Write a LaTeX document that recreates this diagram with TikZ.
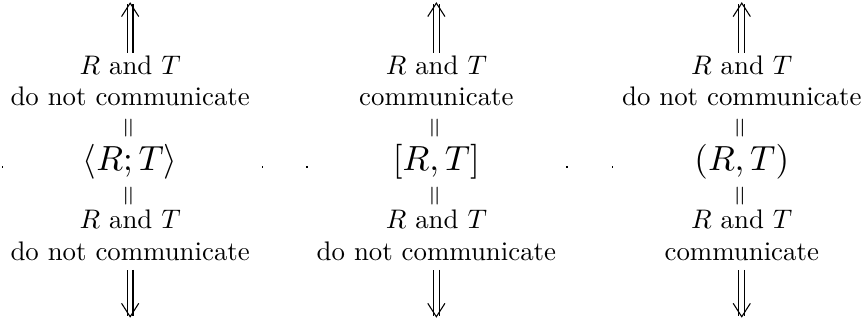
\documentclass[tikz,border=0pt]{standalone}
\usepackage{graphicx}
\usetikzlibrary{arrows.meta}
\newcommand{\bigterm}[1]{\scalebox{1.3}{$#1$}}
\tikzset{
  lbl/.style={anchor=base, inner sep=3.33pt},
  term/.style={anchor=base, inner sep=2pt},
  eqs/.style={rotate=90, inner sep=0pt},
  dbl/.style={double, double distance=1.7pt, line width=0.4pt, -{Straight Barb[line width=0.4pt, length=5pt, width=6.4pt]}},
  dblup/.style={dbl, shorten <=-2.5pt},
  dbldown/.style={dbl, shorten <=0pt},
  dotmark/.style={rectangle, fill=black, inner sep=0pt, minimum size=0.45pt}
}
\begin{document}
\begin{tikzpicture}[x=1pt,y=1pt]
\useasboundingbox (0,0) rectangle (322.7,120);
% dots
\node[dotmark] (d0) at (0.8,57.8) {};
\node[dotmark] (d1) at (97.7,57.8) {};
\node[dotmark] (d2) at (114.4,57.8) {};
\node[dotmark] (d3) at (211.3,57.8) {};
\node[dotmark] (d4) at (228.1,57.8) {};
% column 1
\coordinate (top1) at (48.5,119.2);
\coordinate (bot1) at (48.5,1.6);
\node[lbl] (a1) at (48.5,92.4) {$R$ and $T$};
\node[lbl] (b1) at (48.5,80.5) {do not communicate};
\node[eqs] (e1) at (48.5,72.3) {$=$};
\node[term] (m1) at (48.5,56.6) {\bigterm{\langle R;T\rangle}};
\node[eqs] (f1) at (48.5,47.0) {$=$};
\node[lbl] (c1) at (48.5,35.0) {$R$ and $T$};
\node[lbl] (g1) at (48.5,23.1) {do not communicate};
\draw[dblup] (a1.north) -- (top1);
\draw[dbldown] (g1.south) -- (bot1);
% column 2
\coordinate (top2) at (162.6,119.2);
\coordinate (bot2) at (162.6,1.6);
\node[lbl] (a2) at (162.6,92.4) {$R$ and $T$};
\node[lbl] (b2) at (162.6,80.5) {communicate};
\node[eqs] (e2) at (162.6,72.3) {$=$};
\node[term] (m2) at (162.6,56.6) {\bigterm{[R,T]}};
\node[eqs] (f2) at (162.6,47.0) {$=$};
\node[lbl] (c2) at (162.6,35.0) {$R$ and $T$};
\node[lbl] (g2) at (162.6,23.1) {do not communicate};
\draw[dblup] (a2.north) -- (top2);
\draw[dbldown] (g2.south) -- (bot2);
% column 3
\coordinate (top3) at (276.4,119.2);
\coordinate (bot3) at (276.4,1.6);
\node[lbl] (a3) at (276.4,92.4) {$R$ and $T$};
\node[lbl] (b3) at (276.4,80.5) {do not communicate};
\node[eqs] (e3) at (276.4,72.3) {$=$};
\node[term] (m3) at (276.4,56.6) {\bigterm{(R,T)}};
\node[eqs] (f3) at (276.4,47.0) {$=$};
\node[lbl] (c3) at (276.4,35.0) {$R$ and $T$};
\node[lbl] (g3) at (276.4,23.1) {communicate};
\draw[dblup] (a3.north) -- (top3);
\draw[dbldown] (g3.south) -- (bot3);
\end{tikzpicture}
\end{document}
